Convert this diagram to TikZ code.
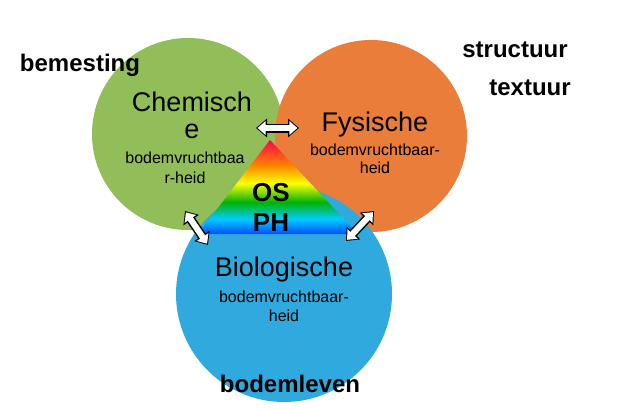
\documentclass[tikz,border=0pt]{standalone}
\usepackage{fontspec}
\setmainfont{Liberation Sans}
\usetikzlibrary{arrows.meta}
\definecolor{leafgreen}{RGB}{146,190,90}
\definecolor{soilorange}{RGB}{234,125,58}
\definecolor{lifeblue}{RGB}{48,170,222}
\pgfdeclareverticalshading{rainbow}{100bp}{color(0bp)=(blue!70!cyan); color(25bp)=(blue!70!cyan); color(33bp)=(cyan!80!blue); color(42bp)=(green!70!black); color(52bp)=(yellow); color(62bp)=(orange); color(75bp)=(red!70!magenta); color(100bp)=(red!70!magenta)}
\tikzset{
    bigtxt/.style={font=\fontsize{27}{27}\selectfont},
    smalltxt/.style={font=\fontsize{16}{16}\selectfont},
    outtxt/.style={font=\fontsize{24}{24}\selectfont\bfseries},
    linkback/.style={line width=9pt,{Triangle[length=11pt,width=18pt]}-{Triangle[length=11pt,width=18pt]}},
    linkfront/.style={white,line width=6pt,shorten <=1.6pt,shorten >=1.6pt,{Triangle[length=8pt,width=13.5pt]}-{Triangle[length=8pt,width=13.5pt]}},
  }
\begin{document}
\begin{tikzpicture}[x=1pt,y=-1pt]
    \useasboundingbox[fill=white] (0,0) rectangle (623,409);
    % circles
    \fill[leafgreen] (188,134) circle (96);
    \fill[soilorange] (371,136) circle (96);
    \fill[lifeblue] (284,294) circle (108);
    % rainbow triangle
    \shade[shading=rainbow] (270,140) -- (358,234) -- (198,234) -- cycle;
    % texts
    \node[bigtxt] (chem1) at (192,102) {Chemisch};
    \node[bigtxt] (chem2) at (192,131) {e};
    \node[smalltxt] (chem3) at (185,158) {bodemvruchtbaa};
    \node[smalltxt] (chem4) at (185,178) {r-heid};
    \node[bigtxt] (fys1) at (375,125) {Fysische};
    \node[smalltxt] (fys2) at (375,150) {bodemvruchtbaar-};
    \node[smalltxt] (fys3) at (375,168) {heid};
    \node[bigtxt] (bio1) at (284,270) {Biologische};
    \node[smalltxt] (bio2) at (284,297) {bodemvruchtbaar-};
    \node[smalltxt] (bio3) at (284,316) {heid};
    \node[bigtxt,font=\fontsize{26}{26}\selectfont\bfseries] (os) at (271,193) {OS};
    \node[bigtxt,font=\fontsize{26}{26}\selectfont\bfseries] (ph) at (271,223) {PH};
    \node[outtxt] (bem) at (80,65) {bemesting};
    \node[outtxt] (struc) at (515,50) {structuur};
    \node[outtxt] (text) at (530,88) {textuur};
    \node[outtxt] (leven) at (290,384) {bodemleven};
    % arrows
    \coordinate (topA) at (256,128);
    \coordinate (topB) at (299,128);
    \coordinate (leftA) at (185,211);
    \coordinate (leftB) at (208,245);
    \coordinate (rightA) at (374,211);
    \coordinate (rightB) at (346,241);
    \foreach \a/\b in {topA/topB,leftA/leftB,rightA/rightB}{
        \draw[linkback] (\a) -- (\b);
        \draw[linkfront] (\a) -- (\b);
    }
\end{tikzpicture}
\end{document}
